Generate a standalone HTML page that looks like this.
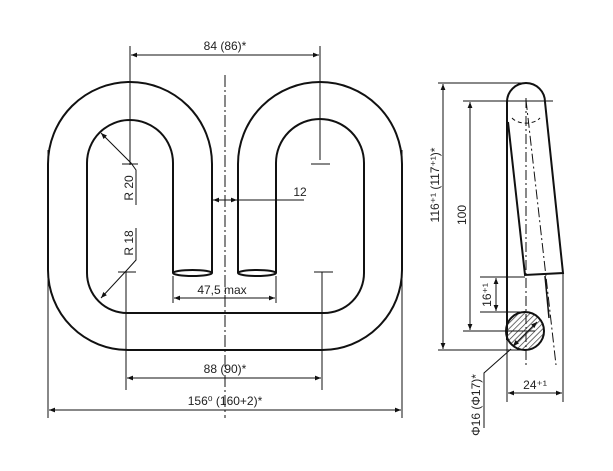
<!DOCTYPE html>
<html><head><meta charset="utf-8"><style>
html,body{margin:0;padding:0;background:#fff}
svg{display:block}
text{font-family:"Liberation Sans",sans-serif;font-size:12px;fill:#222}
</style></head><body>
<svg width="613" height="471" viewBox="0 0 613 471" xmlns="http://www.w3.org/2000/svg">
<defs>
<marker id="a" viewBox="0 0 10 10" refX="10" refY="5" markerWidth="8" markerHeight="6" orient="auto-start-reverse"><path d="M0,1 L10,5 L0,9 z" fill="#111"/></marker>
<pattern id="h" width="4" height="4" patternUnits="userSpaceOnUse" patternTransform="rotate(45)"><line x1="0" y1="0" x2="0" y2="4" stroke="#333" stroke-width="1.4"/></pattern>
</defs>
<g fill="none" stroke="#111" stroke-width="2">
<path d="M212,273 L212,164 A82,82 0 0 0 48,164 L48,270 A80,80 0 0 0 128,350 L322,350 A80,80 0 0 0 402,270 L402,164 A82,82 0 0 0 238,164 L238,273"/>
<path d="M173,273 L173,163 A43,43 0 0 0 87,163 L87,273 A40,40 0 0 0 127,313 L324,313 A40,40 0 0 0 364,273 L364,163 A44,44 0 0 0 276,163 L276,273"/>
<ellipse cx="192.5" cy="273" rx="19.5" ry="3"/>
<ellipse cx="257" cy="273" rx="19" ry="3"/>
</g>
<g stroke="#111" stroke-width="1" fill="none">
<line x1="225" y1="75" x2="225" y2="418" stroke-dasharray="12,3,2,3"/>
<line x1="130" y1="46" x2="130" y2="165"/><line x1="320" y1="46" x2="320" y2="160"/>
<line x1="131" y1="55" x2="319" y2="55" marker-start="url(#a)" marker-end="url(#a)"/>
<line x1="122" y1="164" x2="138" y2="164"/><line x1="311" y1="164" x2="330" y2="164"/>
<line x1="118" y1="272" x2="136" y2="272"/><line x1="314" y1="272" x2="333" y2="272"/>
<line x1="126" y1="272" x2="126" y2="390"/><line x1="322" y1="272" x2="322" y2="390"/>
<line x1="127" y1="378" x2="321" y2="378" marker-start="url(#a)" marker-end="url(#a)"/>
<line x1="48" y1="150" x2="48" y2="418"/><line x1="402" y1="150" x2="402" y2="418"/>
<line x1="49" y1="410" x2="401" y2="410" marker-start="url(#a)" marker-end="url(#a)"/>
<line x1="173" y1="276" x2="173" y2="303"/><line x1="276" y1="276" x2="276" y2="303"/>
<line x1="174" y1="298" x2="275" y2="298" marker-start="url(#a)" marker-end="url(#a)"/>
<line x1="213" y1="200" x2="237" y2="200" marker-start="url(#a)" marker-end="url(#a)"/>
<line x1="238" y1="200" x2="304" y2="200"/>
<polyline points="101,133 131,163 136,170 136,205" marker-start="url(#a)"/>
<polyline points="101,298 127,270 136,260 136,228" marker-start="url(#a)"/>
<!-- side view -->
<path d="M507,340 L507,102 A19,19 0 0 1 545,102 L563,273 L525,275 L508,122" stroke-width="2"/>
<circle cx="525" cy="331" r="19" fill="url(#h)" stroke-width="2"/>
<path d="M512,118 A16,10 0 0 0 540,118" stroke-dasharray="4,3"/>
<line x1="526" y1="98" x2="526" y2="365" stroke-dasharray="10,3,2,3"/>
<line x1="526" y1="100" x2="556" y2="365" stroke-dasharray="10,3,2,3"/>
<line x1="545" y1="276" x2="549" y2="318" stroke-width="1.5"/>
<line x1="438" y1="83" x2="525" y2="83"/><line x1="438" y1="350" x2="525" y2="350"/>
<line x1="443" y1="84" x2="443" y2="349" marker-start="url(#a)" marker-end="url(#a)"/>
<line x1="463" y1="101" x2="553" y2="101"/><line x1="463" y1="331" x2="535" y2="331"/>
<line x1="470" y1="102" x2="470" y2="330" marker-start="url(#a)" marker-end="url(#a)"/>
<line x1="480" y1="277" x2="525" y2="277"/><line x1="480" y1="312" x2="520" y2="312"/>
<line x1="496" y1="278" x2="496" y2="311" marker-start="url(#a)" marker-end="url(#a)"/>
<line x1="507" y1="340" x2="507" y2="402"/><line x1="563" y1="273" x2="563" y2="402"/>
<line x1="508" y1="393" x2="562" y2="393" marker-start="url(#a)" marker-end="url(#a)"/>
<line x1="513" y1="346" x2="537" y2="322" marker-start="url(#a)" marker-end="url(#a)"/>
<polyline points="511,349 484,373 484,428"/>
</g>
<text x="225" y="50" text-anchor="middle" font-size="13">84 (86)*</text>
<text x="225" y="373" text-anchor="middle" font-size="13">88 (90)*</text>
<text x="225" y="405" text-anchor="middle" font-size="13">156⁰ (160+2)*</text>
<text x="222" y="294" text-anchor="middle" font-size="13">47,5 max</text>
<text x="300" y="196" text-anchor="middle" font-size="13">12</text>
<text transform="translate(133,188) rotate(-90)" text-anchor="middle" font-size="13">R 20</text>
<text transform="translate(133,243) rotate(-90)" text-anchor="middle" font-size="13">R 18</text>
<text transform="translate(439,185) rotate(-90)" text-anchor="middle" font-size="11">116⁺¹ (117⁺¹)*</text>
<text transform="translate(466,215) rotate(-90)" text-anchor="middle" font-size="12">100</text>
<text transform="translate(491,295) rotate(-90)" text-anchor="middle" font-size="11">16⁺¹</text>
<text x="535" y="389" text-anchor="middle" font-size="12">24⁺¹</text>
<text transform="translate(480,405) rotate(-90)" text-anchor="middle" font-size="11">Φ16 (Φ17)*</text>
</svg>
</body></html>
